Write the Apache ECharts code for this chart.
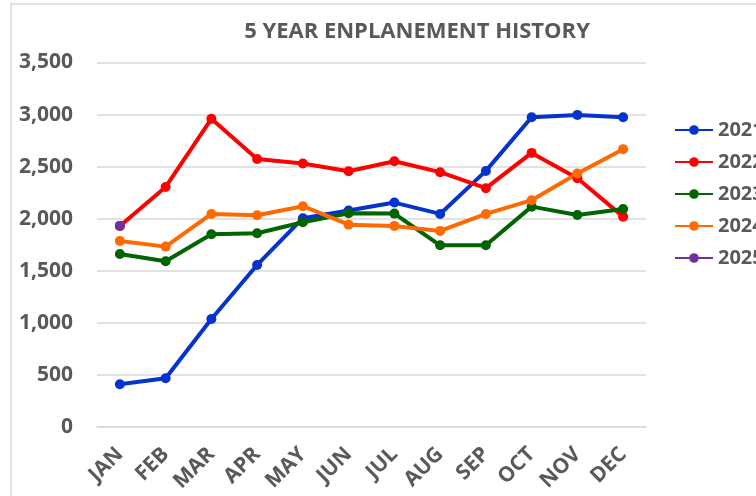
<!DOCTYPE html>
<html>
<head>
<meta charset="utf-8">
<script src="https://cdn.jsdelivr.net/npm/echarts@6/dist/echarts.min.js"></script>
<style>
  html, body { margin: 0; padding: 0; background: #fff; }
  #main { width: 756px; height: 496px; }
</style>
</head>
<body>
<div id="main"></div>
<script>
var months = ['JAN', 'FEB', 'MAR', 'APR', 'MAY', 'JUN', 'JUL', 'AUG', 'SEP', 'OCT', 'NOV', 'DEC'];
var y2021 = [410, 468, 1037, 1556, 2005, 2078, 2155, 2046, 2459, 2975, 2997, 2975];
var y2022 = [1931, 2305, 2959, 2574, 2530, 2456, 2552, 2447, 2293, 2632, 2389, 2020];
var y2023 = [1662, 1592, 1851, 1860, 1966, 2053, 2049, 1745, 1745, 2116, 2036, 2094];
var y2024 = [1787, 1732, 2046, 2034, 2120, 1943, 1931, 1883, 2046, 2178, 2434, 2668];
var y2025 = [1931];

var grey = '#595959';
var font = '"Open Sans", sans-serif';

function line(name, data, color) {
	return {
		name: name,
		type: 'line',
		data: data,
		symbol: 'circle',
		symbolSize: 10,
		lineStyle: { width: 4, color: color },
		itemStyle: { color: color },
		emphasis: { disabled: true }
	};
}

var myChart = echarts.init(document.getElementById('main'));
var option = {
	animation: false,
	backgroundColor: '#fff',
	graphic: [{
		type: 'rect',
		shape: { x: 11, y: 4, width: 800, height: 600 },
		style: { fill: 'none', stroke: '#d9d9d9', lineWidth: 1.5 },
		silent: true
	}],
	title: {
		text: '5 YEAR ENPLANEMENT HISTORY',
		left: 412,
		textAlign: 'center',
		top: 16,
		textStyle: { fontFamily: font, fontWeight: 'bold', fontSize: 22, color: grey }
	},
	legend: {
		orient: 'vertical',
		left: 674,
		top: 120,
		padding: 0,
		itemWidth: 38,
		itemHeight: 12,
		itemGap: 12,
		textStyle: { fontFamily: font, fontWeight: 'bold', fontSize: 20, color: grey },
		data: ['2021', '2022', '2023', '2024', '2025']
	},
	grid: { left: 97, right: 110, top: 62.5, bottom: 69, containLabel: false },
	xAxis: {
		type: 'category',
		data: months,
		boundaryGap: true,
		axisLine: { lineStyle: { color: '#d9d9d9', width: 1.5 } },
		axisTick: { show: false },
		axisLabel: {
			rotate: 45,
			interval: 0,
			margin: 24,
			fontFamily: font,
			fontWeight: 'bold',
			fontSize: 21,
			color: grey
		}
	},
	yAxis: {
		type: 'value',
		min: 0,
		max: 3500,
		interval: 500,
		axisLine: { show: false },
		axisTick: { show: false },
		splitLine: { lineStyle: { color: '#d9d9d9', width: 1.5 } },
		axisLabel: {
			margin: 24,
			fontFamily: font,
			fontWeight: 'bold',
			fontSize: 21,
			color: grey,
			formatter: function (v) { return v.toLocaleString('en-US'); }
		}
	},
	series: [
		line('2021', y2021, '#0433cf'),
		line('2022', y2022, '#ff0000'),
		line('2023', y2023, '#006400'),
		line('2024', y2024, '#ff6a00'),
		line('2025', y2025, '#7030a0')
	]
};
myChart.setOption(option);
</script>
</body>
</html>
